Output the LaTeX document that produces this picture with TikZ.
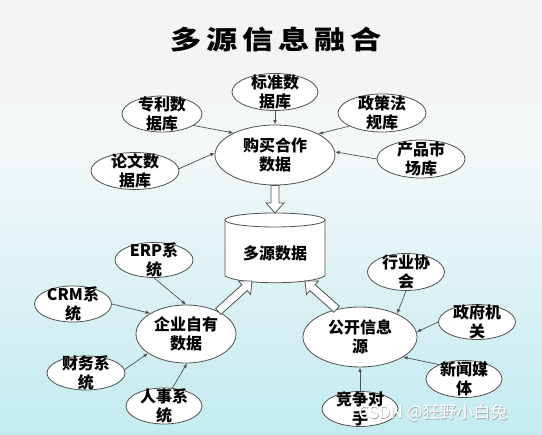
\documentclass[tikz,border=0pt]{standalone}
\usepackage{fontspec}
\usepackage{graphicx}
\newfontfamily\cjk{Noto Sans CJK SC}
\usetikzlibrary{shapes.geometric,calc,arrows.meta}
\definecolor{bgtop}{HTML}{F3F3F3}
\definecolor{bgmid}{HTML}{F4F8F8}
\definecolor{bgbot}{HTML}{C2EBF1}
\definecolor{edge}{HTML}{505050}
\tikzset{
  src/.style={ellipse, draw=edge, line width=0.8pt, fill=white, inner sep=0pt},
  txt/.style={font=\cjk\bfseries\fontsize{16}{19.5}\selectfont, align=center, inner sep=0pt, text=black},
  link/.style={draw=edge, line width=0.7pt, -{Latex[length=4.5pt,width=3.6pt]}},
  hollow/.style={draw=edge, line width=0.8pt, fill=white, line join=miter},
}
\newcommand\enode[5]{\node[src, minimum width=#4pt, minimum height=#5pt, label={[txt,name=#1t]center:#3}] (#1) at (#2) {};}
\newcommand\harrow[2]{%
  \coordinate (hA) at (#1);
  \coordinate (hB) at (#2);
  \coordinate (hM) at ($(hB)!10pt!(hA)$);
  \draw[hollow] ($(hA)!4pt!90:(hB)$) -- ($(hM)!4pt!90:(hB)$) -- ($(hM)!9pt!90:(hB)$) -- (hB)
    -- ($(hM)!9pt!-90:(hB)$) -- ($(hM)!4pt!-90:(hB)$) -- ($(hA)!4pt!-90:(hB)$) -- cycle;
}
\begin{document}
\begin{tikzpicture}[x=1pt,y=-1pt]
\useasboundingbox (0,0) rectangle (542,435);
\shade[top color=bgtop, bottom color=bgmid] (0,0) rectangle (542,150);
\shade[top color=bgmid, bottom color=bgbot] (0,150) rectangle (542,435);

\node[font=\cjk\bfseries\fontsize{26}{26}\selectfont] (title) at (276,40)
  {\scalebox{1.2}[1]{多\hspace{4pt}源\hspace{4pt}信\hspace{4pt}息\hspace{4pt}融\hspace{4pt}合}};

% top group
\enode{std}{275,92}{标准数\\据库}{86}{37}
\enode{pat}{162,114}{专利数\\据库}{80}{36}
\enode{pol}{382,113}{政策法\\规库}{88}{38}
\enode{pap}{135,171}{论文数\\据库}{88}{37}
\enode{mkt}{421,159}{产品市\\场库}{88}{38}
\enode{buy}{275,155}{购买合作\\数据}{120}{60}

% cylinder
\fill[white] (225,220) -- (225,276) .. controls (240,285) and (310,285) .. (325,276) -- (325,220) -- cycle;
\draw[edge, line width=0.8pt] (225,220) -- (225,276) .. controls (240,285) and (310,285) .. (325,276) -- (325,220);
\draw[edge, line width=0.8pt, fill=white] (275,220) ellipse [x radius=50pt, y radius=7pt];
\node[txt] (db) at (275,253) {多源数据};
\coordinate (dbtop) at (275,213);
\coordinate (dbl) at (252,281);
\coordinate (dbr) at (305,281);

% left group
\enode{erp}{154,260}{ERP系\\统}{78}{35}
\enode{crm}{73,304}{CRM系\\统}{77}{36}
\enode{ent}{186,334}{企业自有\\数据}{100}{58}
\enode{fin}{86,373}{财务系\\统}{78}{34}
\enode{hr}{164,406}{人事系\\统}{76}{36}

% right group
\enode{ind}{406,272}{行业协\\会}{77}{37}
\enode{gov}{477,322}{政府机\\关}{77}{35}
\enode{pub}{360,337}{公开信息\\源}{114}{60}
\enode{news}{464,379}{新闻媒\\体}{76}{37}
\enode{comp}{360,409}{竞争对\\手}{76}{35}

% links
\draw[link] (pat.-20) -- (buy.152);
\draw[link] (std.south) -- (buy.north);
\draw[link] (pol.-158) -- (buy.26);
\draw[link] (pap.3) -- (buy.178);
\draw[link] (mkt.180) -- (buy.3);

\draw[link] (erp.-90) -- (ent.90);
\draw[link] (crm.0) -- (ent.150);
\draw[link] (fin.5) -- (ent.-153);
\draw[link] (hr.65) -- (ent.-88);

\draw[link] (ind.south) -- (pub.32);
\draw[link] (gov.180) -- (pub.5);
\draw[link] (news.150) -- (pub.-25);
\draw[link] (comp.north) -- (pub.south);

% hollow arrows
\harrow{buy.south}{dbtop}
\harrow{ent.35}{dbl}
\harrow{pub.130}{dbr}

% watermark
\node[font=\cjk\fontsize{17}{17}\selectfont, text=gray!70] (wmshadow) at (433.6,413.6) {CSDN @狂野小白兔};
\node[font=\cjk\fontsize{17}{17}\selectfont, text=white] (wm) at (433,413) {CSDN @狂野小白兔};
\end{tikzpicture}
\end{document}
